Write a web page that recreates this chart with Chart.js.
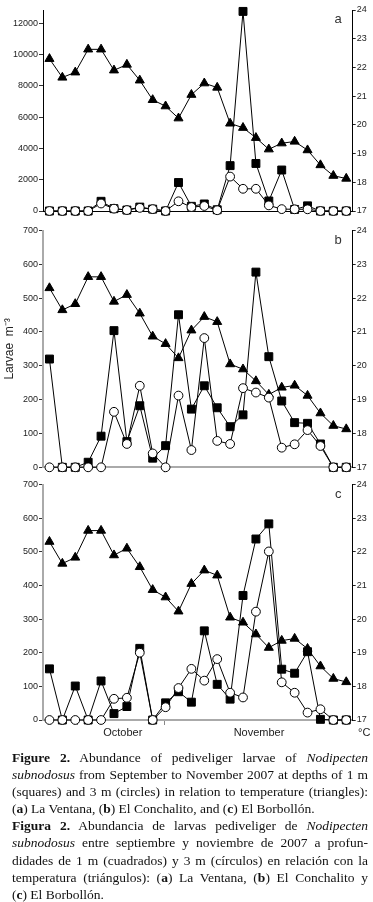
<!DOCTYPE html>
<html>
<head>
<meta charset="utf-8">
<script src="https://cdn.jsdelivr.net/npm/chart.js@4.4.0/dist/chart.umd.min.js"></script>
<style>
  body { margin: 0; background: #fff; }
  #wrap { position: relative; width: 373px; height: 902px; overflow: hidden; }
  canvas { position: absolute; left: 0; }
  #degC { position: absolute; left: 358px; top: 726px; font: 11px "Liberation Sans", Arial, sans-serif; color: #222; }
  #caption { position: absolute; left: 12px; top: 749px; width: 356px;
    font-family: "Liberation Serif", "Times New Roman", serif; font-size: 13.5px; line-height: 17.1px; color: #111; }
  #caption .ln { white-space: nowrap; text-align: justify; text-align-last: justify; }
  #caption .ln.end { text-align: left; text-align-last: left; }
</style>
</head>
<body>
<div id="wrap">
  <canvas id="panelA" width="373" height="220" style="top:0px"></canvas>
  <canvas id="panelB" width="373" height="254" style="top:220px"></canvas>
  <canvas id="panelC" width="373" height="272" style="top:474px"></canvas>
  <div id="degC">°C</div>
  <div id="caption">
    <div class="ln"><b>Figure 2.</b> Abundance of pediveliger larvae of <i>Nodipecten</i></div>
    <div class="ln"><i>subnodosus</i> from September to November 2007 at depths of 1 m</div>
    <div class="ln">(squares) and 3 m (circles) in relation to temperature (triangles):</div>
    <div class="ln end">(<b>a</b>) La Ventana, (<b>b</b>) El Conchalito, and (<b>c</b>) El Borbollón.</div>
    <div class="ln"><b>Figura 2.</b> Abundancia de larvas pediveliger de <i>Nodipecten</i></div>
    <div class="ln"><i>subnodosus</i> entre septiembre y noviembre de 2007 a profun-</div>
    <div class="ln">didades de 1 m (cuadrados) y 3 m (círculos) en relación con la</div>
    <div class="ln">temperatura (triángulos): (<b>a</b>) La Ventana, (<b>b</b>) El Conchalito y</div>
    <div class="ln end">(<b>c</b>) El Borbollón.</div>
  </div>
</div>
<script>
// sampling dates, Sept - Nov 2007 (index along the x axis)
const sampleNo = [0, 1, 2, 3, 4, 5, 6, 7, 8, 9, 10, 11, 12, 13, 14, 15, 16, 17, 18, 19, 20, 21, 22, 23];

// month boundaries and month names under the bottom panel
const monthEdges = [2.21, 8.88];
const monthCentres = [5.68, 16.24];
const monthNames = ['October', 'November'];

// axis tick labels
const ticksVentana = [0, 2000, 4000, 6000, 8000, 10000, 12000];
const ticksLarvae = [0, 100, 200, 300, 400, 500, 600, 700];
const ticksTemp = [17, 18, 19, 20, 21, 22, 23, 24];

// temperature (°C), same in all three sites
const tempC = [22.3, 21.65, 21.83, 22.63, 22.63, 21.9, 22.1, 21.55, 20.87, 20.65, 20.23, 21.05,
               21.45, 21.3, 20.05, 19.9, 19.55, 19.15, 19.36, 19.42, 19.12, 18.6, 18.23, 18.13];

// (a) La Ventana
const ventana1m = [0, 0, 0, 0, 620, 150, 60, 250, 120, 0, 1820, 300, 450, 80, 2900, 12760,
                   3040, 640, 2620, 100, 330, 0, 0, 0];
const ventana3m = [0, 0, 0, 0, 480, 150, 60, 200, 120, 0, 620, 250, 320, 50, 2200, 1420,
                   1420, 360, 120, 110, 110, 0, 0, 0];

// (b) El Conchalito
const conchalito1m = [320, 0, 0, 15, 92, 404, 76, 182, 27, 64, 451, 172, 241, 176, 120, 155,
                      577, 327, 196, 132, 130, 69, 0, 0];
const conchalito3m = [0, 0, 0, 0, 0, 164, 69, 241, 41, 0, 212, 51, 382, 78, 69, 234,
                      221, 206, 58, 68, 110, 63, 0, 0];

// (c) El Borbollón
const borbollon1m = [152, 0, 101, 0, 116, 19, 40, 213, 0, 51, 84, 53, 265, 106, 62, 370,
                     538, 583, 151, 139, 203, 2, 0, 0];
const borbollon3m = [0, 0, 0, 0, 0, 63, 66, 200, 0, 38, 95, 152, 117, 181, 81, 67,
                     322, 501, 112, 81, 22, 32, 0, 0];

Chart.defaults.font.family = '"Liberation Sans", Arial, sans-serif';
Chart.defaults.font.size = 9;
Chart.defaults.color = '#222';

const panelLetter = {
  id: 'panelLetter',
  afterDraw(chart, args, opts) {
    const { ctx, chartArea } = chart;
    ctx.save();
    ctx.font = '13px "Liberation Sans", Arial, sans-serif';
    ctx.fillStyle = '#333';
    ctx.textAlign = 'center';
    ctx.textBaseline = 'middle';
    ctx.fillText(opts.text, chartArea.right - 14.5, chartArea.top + 9.5);
    ctx.restore();
  }
};

function pts(arr) {
  return arr.map((v, i) => ({ x: sampleNo[i], y: v }));
}

function makePanel(id, p) {
  const isLabel = v => monthCentres.includes(v);
  new Chart(document.getElementById(id), {
    type: 'line',
    data: {
      datasets: [
        { label: '3 m', data: pts(p.circles), yAxisID: 'y',
          borderColor: '#000', borderWidth: 1, pointStyle: 'circle', pointRadius: 4.4,
          pointBackgroundColor: '#fff', pointBorderColor: '#000', pointBorderWidth: 1, clip: false },
        { label: '1 m', data: pts(p.squares), yAxisID: 'y',
          borderColor: '#000', borderWidth: 1, pointStyle: 'rect', pointRadius: 5.6,
          pointBackgroundColor: '#000', pointBorderColor: '#000', pointBorderWidth: 1, clip: false },
        { label: 'Temperature', data: pts(tempC), yAxisID: 'y2',
          borderColor: '#000', borderWidth: 1, pointStyle: 'triangle', pointRadius: 5.2,
          pointBackgroundColor: '#000', pointBorderColor: '#000', pointBorderWidth: 1, clip: false }
      ]
    },
    options: {
      responsive: false,
      animation: false,
      layout: { padding: { top: p.padTop, left: 0, right: 0, bottom: 0 } },
      plugins: { legend: { display: false }, tooltip: { enabled: false }, panelLetter: { text: p.letter } },
      elements: { line: { tension: 0, fill: false } },
      scales: {
        x: {
          type: 'linear', min: -0.5, max: 23.5,
          border: { color: p.axisColor, width: p.axisWidth },
          grid: { drawOnChartArea: false, tickLength: 5,
                  color: c => (c.tick && isLabel(c.tick.value)) ? 'rgba(0,0,0,0)' : '#888' },
          afterBuildTicks: s => {
            const t = monthEdges.map(v => ({ value: v }));
            if (p.months) monthCentres.forEach(v => t.push({ value: v }));
            s.ticks = t;
          },
          ticks: { autoSkip: false, maxRotation: 0, padding: 1.5, font: { size: 11 }, color: '#222',
                   callback: v => isLabel(v) ? monthNames[monthCentres.indexOf(v)] : '' },
          afterFit: s => { s.height = p.xHeight; }
        },
        y: {
          type: 'linear', position: 'left', min: 0, max: p.leftMax,
          border: { color: p.axisColor, width: p.axisWidth },
          grid: { drawOnChartArea: false, tickLength: 4, color: '#333' },
          afterBuildTicks: s => { s.ticks = p.leftTicks.map(v => ({ value: v })); },
          ticks: { autoSkip: false, padding: 1, callback: v => String(v) },
          title: { display: !!p.yTitle, text: p.yTitle || '', font: { size: 12 }, color: '#222',
                   padding: { top: 2, bottom: 0 } },
          afterFit: s => { s.width = 43; }
        },
        y2: {
          type: 'linear', position: 'right', min: 17, max: 24,
          border: { color: '#000', width: 1 },
          grid: { drawOnChartArea: false, tickLength: 3, color: '#222' },
          afterBuildTicks: s => { s.ticks = ticksTemp.map(v => ({ value: v })); },
          ticks: { autoSkip: false, padding: 1 },
          afterFit: s => { s.width = 20.3; }
        }
      }
    },
    plugins: [panelLetter]
  });
}

makePanel('panelA', { letter: 'a', squares: ventana1m, circles: ventana3m, leftMax: 12850, leftTicks: ticksVentana,
  padTop: 10, xHeight: 9, axisColor: '#000', axisWidth: 1, months: false });
makePanel('panelB', { letter: 'b', squares: conchalito1m, circles: conchalito3m, leftMax: 700, leftTicks: ticksLarvae,
  padTop: 10.5, xHeight: 6.7, axisColor: '#aaa', axisWidth: 2, months: false, yTitle: 'Larvae  m⁻³' });
makePanel('panelC', { letter: 'c', squares: borbollon1m, circles: borbollon3m, leftMax: 700, leftTicks: ticksLarvae,
  padTop: 10.5, xHeight: 26, axisColor: '#aaa', axisWidth: 2, months: true });
</script>
</body>
</html>
